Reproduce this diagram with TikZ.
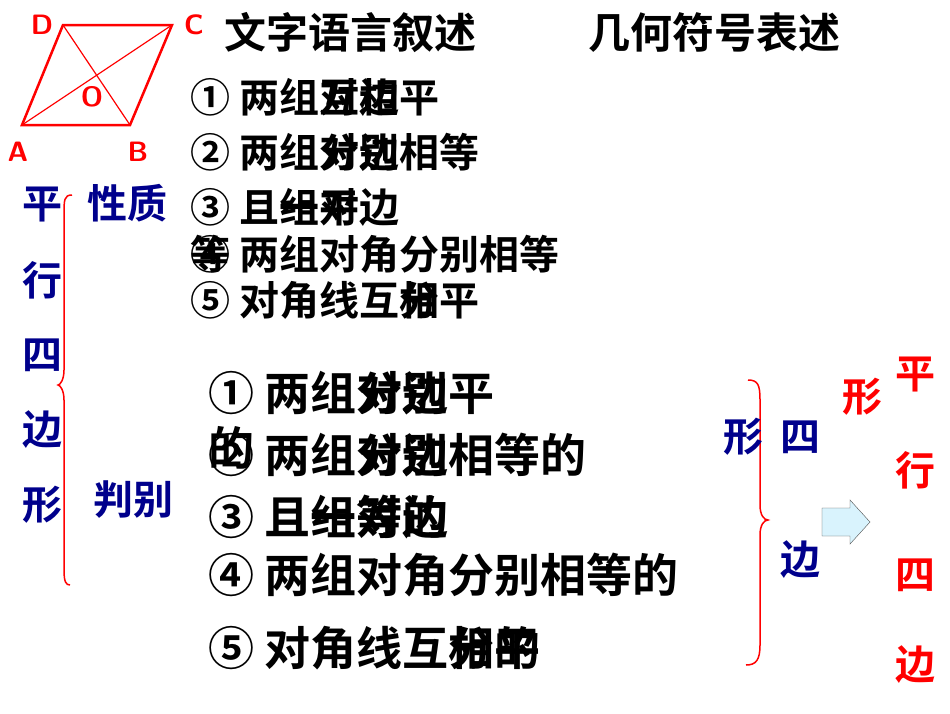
\documentclass[tikz,border=0pt]{standalone}
\usepackage{fontspec}
\setmainfont{Noto Sans CJK SC Bold}
\begin{document}
\begin{tikzpicture}[x=1pt,y=-1pt,
  t/.style={anchor=west,inner sep=0,font=\fontsize{40}{40}\selectfont},
  tb/.style={anchor=west,inner sep=0,font=\fontsize{46}{46}\selectfont},
  bl/.style={inner sep=0,text=blue!55!black,font=\fontsize{40}{40}\selectfont},
  rd/.style={inner sep=0,text=red,font=\fontsize{40}{40}\selectfont},
  pt/.style={inner sep=0,text=red,font=\sffamily\bfseries\fontsize{28}{28}\selectfont}]
\useasboundingbox (0,0) rectangle (950,713);
% parallelogram
\coordinate (A) at (22,125); \coordinate (B) at (130,125);
\coordinate (C) at (172,25); \coordinate (D) at (63,25);
\draw[red,line width=2.5pt] (A)--(B)--(C)--(D)--cycle;
\draw[red,line width=1.2pt] (A)--(C) (B)--(D);
\node[pt] (lD) at (42,25) {D}; \node[pt] (lC) at (194,25) {C};
\node[pt] (lA) at (18,152) {A}; \node[pt] (lB) at (138,152) {B};
\node[pt] (lO) at (92,97) {O};
% headers
\node[t,font=\fontsize{42}{42}\selectfont] (h1) at (224,33) {文字语言叙述};
\node[t,font=\fontsize{42}{42}\selectfont] (h2) at (588,33) {几何符号表述};
% properties
\node[t] (p1) at (190,97) {① 两组对边平};
\node[t] (p1b) at (190,97) {\phantom{① 两组}互相};
\node[t] (p2) at (190,152) {② 两组对边相等};
\node[t] (p2b) at (190,152) {\phantom{② 两组}分别};
\node[t] (p3) at (190,207) {③ 且组对边};
\node[t] (p3b) at (190,207) {\phantom{③ 且}一平};
\node[t] (p4) at (190,254) {④ 两组对角分别相等};
\node[t] (p4b) at (190,254) {等};
\node[t] (p5) at (190,300) {⑤ 对角线互相平};
\node[t] (p5b) at (190,300) {\phantom{⑤ 对角线互}分};
% criteria
\node[tb] (c1) at (208,393) {① 两组对边平};
\node[tb] (c1b) at (208,393) {\phantom{① 两组}分别};
\node[tb] (c2) at (208,455) {② 两组对边相等的};
\node[tb] (c2b) at (208,455) {\phantom{② 两组}分别};
\node[tb] (c2c) at (208,448) {的};
\node[tb] (c3) at (208,517) {③ 且组对边};
\node[tb] (c3b) at (208,517) {\phantom{③ 且}一等的};
\node[tb] (c4) at (208,575) {④ 两组对角分别相等的};
\node[tb] (c5) at (208,648) {⑤ 对角线互相平};
\node[tb] (c5b) at (208,648) {\phantom{⑤ 对角线互}分的};
% left labels
\foreach \c/\y [count=\i] in {平/205,行/280,四/355,边/430,形/505}
  \node[bl] (L\i) at (42,\y) {\c};
\node[bl] (xz) at (127,203) {性质};
\node[bl] (pb) at (133,500) {判别};
\draw[red,line width=1.5pt] (72,195) .. controls (64,195) and (64,200) .. (64,215)
  -- (64,370) .. controls (64,380) and (60,385) .. (58,385)
  .. controls (60,385) and (64,390) .. (64,400) -- (64,570)
  .. controls (64,582) and (66,585) .. (70,585);
% right brace
\draw[red,line width=1.5pt] (748,380) .. controls (758,380) and (760,385) .. (760,400)
  -- (760,505) .. controls (760,515) and (764,520) .. (768,520)
  .. controls (764,520) and (760,525) .. (760,535) -- (760,645)
  .. controls (760,660) and (756,665) .. (746,665);
\node[bl] (r1) at (743,437) {形};
\node[bl] (r2) at (800,437) {四};
\node[bl] (r3) at (800,560) {边};
\node[rd] (s0) at (862,397) {形};
\foreach \c/\y [count=\i] in {平/375,行/470,四/575,边/665}
  \node[rd] (S\i) at (915,\y) {\c};
\draw[black!70,fill=cyan!15] (822,508) -- (850,508) -- (850,500) -- (870,522)
  -- (850,544) -- (850,536) -- (822,536) -- cycle;
\end{tikzpicture}
\end{document}
